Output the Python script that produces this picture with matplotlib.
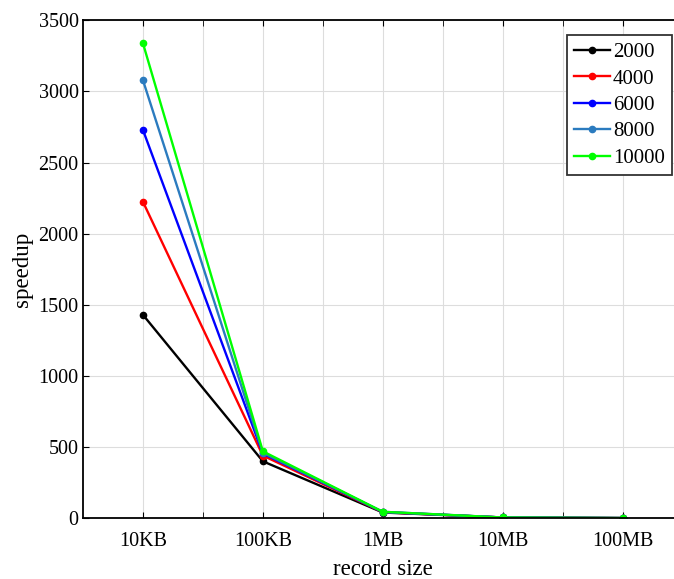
import matplotlib
matplotlib.use("Agg")
import matplotlib.pyplot as plt
import numpy as np

# record sizes and speedup values per series
sizes = ["10KB", "100KB", "1MB", "10MB", "100MB"]
labels = ["2000", "4000", "6000", "8000", "10000"]
colors = ["black", "red", "blue", "#2b7bbf", "#00ff00"]
s2000 = [1430, 400, 40, 5, 1]
s4000 = [2225, 440, 42, 5, 1]
s6000 = [2730, 455, 43, 5, 1]
s8000 = [3080, 460, 45, 5, 1]
s10000 = [3340, 470, 45, 5, 1]
series = [s2000, s4000, s6000, s8000, s10000]

plt.rcParams['font.family'] = ['Liberation Serif', 'DejaVu Serif']

fig = plt.figure(figsize=(6.74, 5.79), dpi=100)
# axes run slightly past the right edge of the figure, as in the reference
ax = fig.add_axes([0.123, 0.105, 0.89, 0.86])

x = np.arange(1, len(sizes) + 1)
for vals, lab, col in zip(series, labels, colors):
    ax.plot(x, vals, color=col, lw=1.7, marker='o', ms=4.5, label=lab)

ax.set_xlim(0.5, 5.5)
ax.set_ylim(0, 3500)
ax.set_xticks(x)
ax.set_xticklabels(sizes)
ax.set_xticks(x[:-1] + 0.5, minor=True)
ax.set_yticks(np.arange(0, 3501, 500))
ax.grid(True, which='both', color='#dddddd', lw=0.8)
ax.set_axisbelow(True)
ax.tick_params(which='both', direction='in', top=True, right=True, labelsize=14.5, length=4)
ax.tick_params(axis='x', pad=10)
ax.tick_params(axis='y', pad=3)
for sp in ax.spines.values():
    sp.set_linewidth(1.3)

ax.set_xlabel("record size", fontsize=16.5, labelpad=6)
ax.set_ylabel("speedup", fontsize=16.5, labelpad=4)

leg = ax.legend(loc='upper right', bbox_to_anchor=(0.982, 0.97), fontsize=15,
                fancybox=False, framealpha=1, edgecolor='#333333',
                handlelength=1.7, borderaxespad=0, borderpad=0.35,
                labelspacing=0.33, handletextpad=0.15)
leg.get_frame().set_linewidth(1.3)

fig.savefig("out.png", dpi=100)
